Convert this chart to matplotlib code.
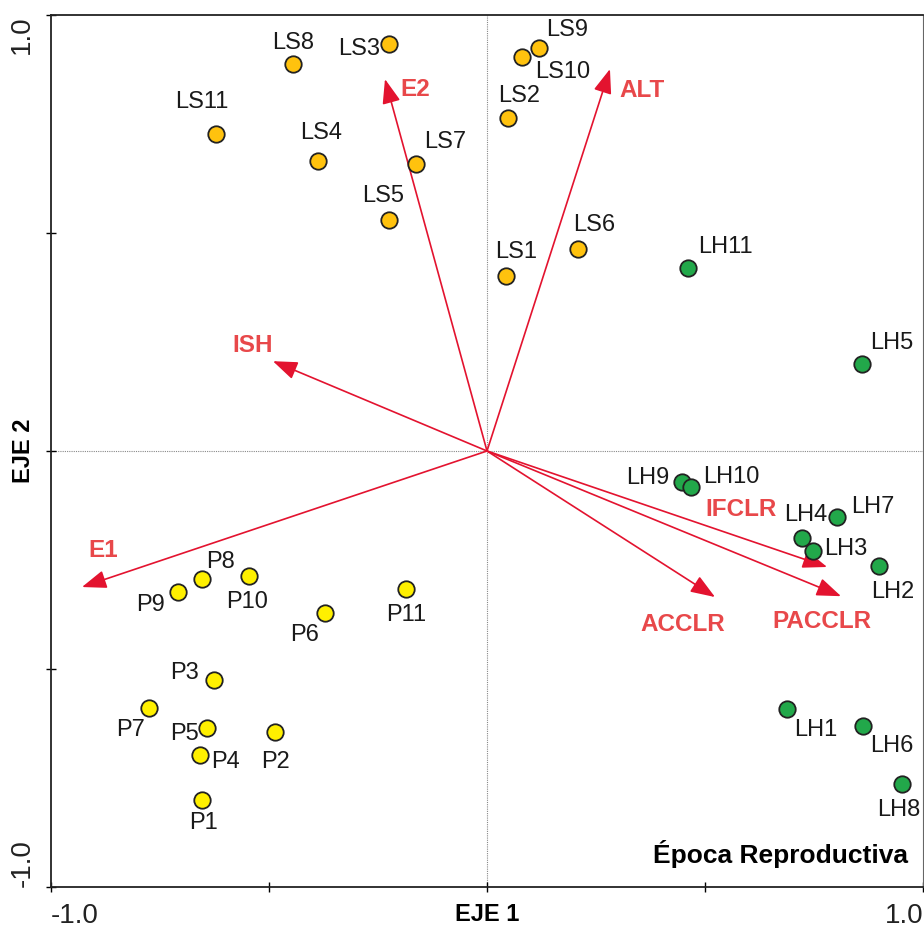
import matplotlib
matplotlib.use('Agg')
import matplotlib.pyplot as plt

plt.rcParams['font.family'] = ['Liberation Sans', 'DejaVu Sans']

# sitios LS (época seca)
ls_names = ['LS1', 'LS2', 'LS3', 'LS4', 'LS5', 'LS6', 'LS7', 'LS8', 'LS9', 'LS10', 'LS11']
ls_x = [0.044, 0.048, -0.225, -0.388, -0.225, 0.209, -0.163, -0.445, 0.119, 0.080, -0.622]
ls_y = [0.401, 0.764, 0.933, 0.665, 0.530, 0.463, 0.658, 0.888, 0.924, 0.904, 0.727]

# sitios LH
lh_names = ['LH1', 'LH2', 'LH3', 'LH4', 'LH5', 'LH6', 'LH7', 'LH8', 'LH9', 'LH10', 'LH11']
lh_x = [0.688, 0.899, 0.748, 0.722, 0.860, 0.862, 0.803, 0.952, 0.447, 0.468, 0.461]
lh_y = [-0.592, -0.264, -0.229, -0.200, 0.200, -0.631, -0.151, -0.764, -0.071, -0.083, 0.420]

# sitios P
p_names = ['P1', 'P2', 'P3', 'P4', 'P5', 'P6', 'P7', 'P8', 'P9', 'P10', 'P11']
p_x = [-0.654, -0.486, -0.626, -0.658, -0.642, -0.372, -0.775, -0.654, -0.709, -0.546, -0.186]
p_y = [-0.800, -0.644, -0.525, -0.697, -0.635, -0.372, -0.589, -0.294, -0.323, -0.287, -0.317]

# variables ambientales (vectores)
var_names = ['E1', 'E2', 'ALT', 'ISH', 'IFCLR', 'PACCLR', 'ACCLR']
var_x = [-0.929, -0.234, 0.282, -0.491, 0.780, 0.812, 0.523]
var_y = [-0.312, 0.853, 0.876, 0.206, -0.266, -0.333, -0.335]

# posicion de las etiquetas (desplazamiento en pixeles desde el punto)
lab_off = {
    'LS1': (10, 24), 'LS2': (11, 22), 'LS3': (-30, -5), 'LS4': (3, 28),
    'LS5': (-6, 24), 'LS6': (16, 24), 'LS7': (29, 22), 'LS8': (0, 21),
    'LS9': (28, 18), 'LS10': (41, -15), 'LS11': (-14, 32),
    'LH1': (29, -21), 'LH2': (14, -26), 'LH3': (33, 2), 'LH4': (4, 23),
    'LH5': (30, 21), 'LH6': (29, -20), 'LH7': (36, 10), 'LH8': (-3, -26),
    'LH9': (-34, 4), 'LH10': (40, 10), 'LH11': (37, 21),
    'P1': (2, -23), 'P2': (0, -30), 'P3': (-30, 7), 'P4': (25, -7),
    'P5': (-23, -6), 'P6': (-20, -22), 'P7': (-19, -22), 'P8': (19, 17),
    'P9': (-27, -13), 'P10': (-2, -26), 'P11': (0, -26),
}
var_lab_pos = {
    'E1': (-0.881, -0.229), 'E2': (-0.165, 0.830), 'ALT': (0.356, 0.826),
    'ISH': (-0.537, 0.241), 'IFCLR': (0.583, -0.135),
    'PACCLR': (0.768, -0.392), 'ACCLR': (0.450, -0.399),
}

red = '#E3132F'
red_txt = '#E8484A'

fig = plt.figure(figsize=(9.24, 9.27), dpi=100)
ax = fig.add_axes([51/924, 40/927, 872/924, 872/927])

ax.axhline(0, color='#888888', lw=0.8, ls=(0, (1, 1)), zorder=1)
ax.axvline(0, color='#888888', lw=0.8, ls=(0, (1, 1)), zorder=1)

# vectores
for name, vx, vy in zip(var_names, var_x, var_y):
    ax.annotate('', xy=(vx, vy), xytext=(0, 0),
                arrowprops=dict(arrowstyle='-|>,head_length=0.75,head_width=0.28',
                                mutation_scale=20, color=red, lw=1.2,
                                shrinkA=0, shrinkB=0), zorder=2)
    tx, ty = var_lab_pos[name]
    ax.text(tx, ty, name, color=red_txt, fontsize=17.5, fontweight='bold',
            ha='center', va='center', zorder=4)

groups = [
    (ls_names, ls_x, ls_y, '#FFC20E'),
    (lh_names, lh_x, lh_y, '#22A84A'),
    (p_names, p_x, p_y, '#FFF000'),
]
for names, xs, ys, col in groups:
    ax.scatter(xs, ys, s=140, c=col, edgecolors='#222222', linewidths=1.3, zorder=3)
    for n, px, py in zip(names, xs, ys):
        ax.annotate(n, (px, py), xytext=lab_off[n], textcoords='offset pixels',
                    ha='center', va='center', fontsize=17, color='#1a1a1a', zorder=4)

ax.text(0.983, 0.0275, 'Época Reproductiva', transform=ax.transAxes,
        ha='right', va='baseline', fontsize=19, fontweight='bold')

ax.set_xlim(-1, 1)
ax.set_ylim(-1, 1)
ax.set_xticks([-1, -0.5, 0, 0.5, 1], ['-1.0', '', '', '', '1.0'])
ax.set_yticks([-1, -0.5, 0, 0.5, 1], ['-1.0', '', '', '', '1.0'])
ax.tick_params(direction='inout', length=6.5, width=1, labelsize=20,
               labelcolor='#222222', pad=8)
ax.tick_params(axis='y', labelrotation=90)
xl = ax.get_xticklabels()
xl[0].set_ha('left')
xl[-1].set_ha('right')
yl = ax.get_yticklabels()
yl[0].set_va('bottom')
yl[-1].set_va('top')

ax.set_xlabel('EJE 1', fontsize=17, fontweight='bold')
ax.set_ylabel('EJE 2', fontsize=17, fontweight='bold')
ax.xaxis.set_label_coords(0.5, -0.018)
ax.yaxis.set_label_coords(-0.018, 0.5)

for side in ['left', 'bottom', 'top']:
    ax.spines[side].set_linewidth(1.3)
    ax.spines[side].set_color('#222222')
ax.spines['right'].set_linewidth(0.8)
ax.spines['right'].set_color('#666666')

fig.savefig('out.png', dpi=100)
